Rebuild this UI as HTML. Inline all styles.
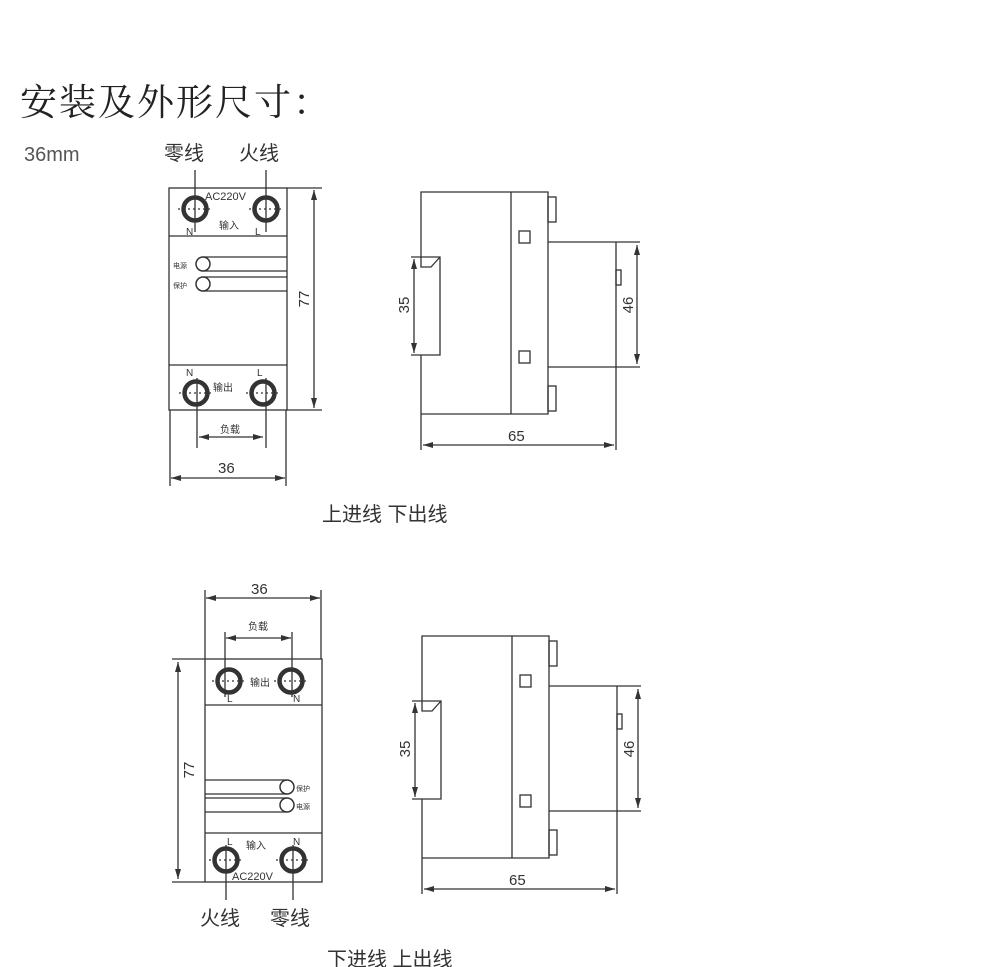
<!DOCTYPE html>
<html><head><meta charset="utf-8"><style>
html,body{margin:0;padding:0;background:#fff}
svg{display:block}
text{font-family:"Liberation Sans","Noto Sans CJK SC",sans-serif;fill:#333}
.cj{font-family:"Liberation Sans","Noto Sans CJK SC",sans-serif}
.serif{font-family:"Liberation Serif","Noto Serif CJK SC",serif}
</style></head><body>
<svg width="990" height="967" viewBox="0 0 990 967" xmlns="http://www.w3.org/2000/svg">
<defs>
<marker id="ar" viewBox="0 0 10 6" refX="10" refY="3" markerWidth="10" markerHeight="6" orient="auto-start-reverse" markerUnits="userSpaceOnUse"><path d="M0,0 L10,3 L0,6 z" fill="#333"/></marker>
<g id="term">
<circle r="11.5" fill="none" stroke="#333" stroke-width="4.5"/>
<line x1="-17" y1="0" x2="17" y2="0" stroke="#333" stroke-width="1.2" stroke-dasharray="2,3"/>
</g>
<g id="side" fill="none" stroke="#333" stroke-width="1.3">
<path d="M421,257 V192 H548 V414 H421"/>
<line x1="511" y1="192" x2="511" y2="414"/>
<rect x="519" y="231" width="11" height="12"/>
<rect x="519" y="351" width="11" height="12"/>
<rect x="548" y="197" width="8" height="25"/>
<rect x="548" y="386" width="8" height="25"/>
<path d="M548,242 H640 M548,367 H640"/>
<line x1="616" y1="242" x2="616" y2="450"/>
<rect x="616" y="270" width="5" height="15"/>
<path d="M411,257 H440 V355 H411 M421,355 V450"/>
<path d="M421,257 V267 H431 L440,257"/>
<line x1="414" y1="259" x2="414" y2="353" marker-start="url(#ar)" marker-end="url(#ar)"/>
<line x1="637" y1="245" x2="637" y2="364" marker-start="url(#ar)" marker-end="url(#ar)"/>
<line x1="423" y1="445" x2="614" y2="445" marker-start="url(#ar)" marker-end="url(#ar)"/>
</g>
</defs>

<text x="20" y="115" class="serif" style="font-size:37px;fill:#222;letter-spacing:2px">安装及外形尺寸：</text>
<text x="24" y="161" style="font-size:20px;fill:#555">36mm</text>
<text x="164" y="160" class="cj" style="font-size:20px">零线</text>
<text x="239" y="160" class="cj" style="font-size:20px">火线</text>

<!-- Top-left front view -->
<g fill="none" stroke="#333" stroke-width="1.3">
<rect x="169" y="188" width="118" height="222"/>
<line x1="169" y1="236" x2="287" y2="236"/>
<line x1="169" y1="365" x2="287" y2="365"/>
<line x1="195" y1="170" x2="195" y2="232"/>
<line x1="266" y1="170" x2="266" y2="232"/>
<line x1="197" y1="378" x2="197" y2="448"/>
<line x1="266" y1="378" x2="266" y2="448"/>
<line x1="199" y1="437" x2="263" y2="437" marker-start="url(#ar)" marker-end="url(#ar)"/>
<line x1="170" y1="410" x2="170" y2="486"/>
<line x1="286" y1="410" x2="286" y2="486"/>
<line x1="171" y1="478" x2="285" y2="478" marker-start="url(#ar)" marker-end="url(#ar)"/>
<path d="M287,188 H322 M287,410 H322"/>
<line x1="314" y1="190" x2="314" y2="408" marker-start="url(#ar)" marker-end="url(#ar)"/>
<circle cx="203" cy="264" r="7" stroke-width="1.5"/>
<circle cx="203" cy="284" r="7" stroke-width="1.5"/>
<path d="M203,257 H287 M203,271 H287 M203,277 H287 M203,291 H287"/>
</g>
<use href="#term" x="195" y="209"/>
<use href="#term" x="266" y="209"/>
<use href="#term" x="196" y="393"/>
<use href="#term" x="263" y="393"/>
<text x="205" y="200" style="font-size:11px">AC220V</text>
<text x="186" y="235" style="font-size:10px">N</text>
<text x="255" y="235" style="font-size:10px">L</text>
<text x="219" y="229" style="font-size:10px">输入</text>
<text x="186" y="376" style="font-size:10px">N</text>
<text x="257" y="376" style="font-size:10px">L</text>
<text x="213" y="391" style="font-size:10px">输出</text>
<text x="220" y="433" style="font-size:10px">负载</text>
<text x="218" y="473" style="font-size:15px">36</text>
<text x="173" y="268" style="font-size:7px">电源</text>
<text x="173" y="288" style="font-size:7px">保护</text>
<text transform="translate(309,299) rotate(-90)" style="font-size:15px" text-anchor="middle">77</text>

<!-- Top side view -->
<use href="#side"/>
<text transform="translate(409,305) rotate(-90)" style="font-size:15px" text-anchor="middle">35</text>
<text transform="translate(633,305) rotate(-90)" style="font-size:15px" text-anchor="middle">46</text>
<text x="508" y="441" style="font-size:15px">65</text>

<text x="322" y="521" class="cj" style="font-size:20px">上进线 下出线</text>

<!-- Bottom-left front view -->
<g fill="none" stroke="#333" stroke-width="1.3">
<rect x="205" y="659" width="117" height="223"/>
<line x1="205" y1="705" x2="322" y2="705"/>
<line x1="205" y1="833" x2="322" y2="833"/>
<line x1="205" y1="590" x2="205" y2="659"/>
<line x1="321" y1="590" x2="321" y2="659"/>
<line x1="206" y1="598" x2="320" y2="598" marker-start="url(#ar)" marker-end="url(#ar)"/>
<line x1="225" y1="632" x2="225" y2="697"/>
<line x1="292" y1="632" x2="292" y2="697"/>
<line x1="226" y1="638" x2="291" y2="638" marker-start="url(#ar)" marker-end="url(#ar)"/>
<path d="M172,659 H205 M172,882 H205"/>
<line x1="178" y1="662" x2="178" y2="879" marker-start="url(#ar)" marker-end="url(#ar)"/>
<line x1="226" y1="845" x2="226" y2="900"/>
<line x1="293" y1="845" x2="293" y2="900"/>
<circle cx="287" cy="787" r="7" stroke-width="1.5"/>
<circle cx="287" cy="805" r="7" stroke-width="1.5"/>
<path d="M205,780 H287 M205,794 H287 M205,798 H287 M205,812 H287"/>
</g>
<use href="#term" x="229" y="681"/>
<use href="#term" x="291" y="681"/>
<use href="#term" x="226" y="860"/>
<use href="#term" x="293" y="860"/>
<text x="250" y="686" style="font-size:10px">输出</text>
<text x="227" y="702" style="font-size:10px">L</text>
<text x="293" y="702" style="font-size:10px">N</text>
<text x="248" y="630" style="font-size:10px">负载</text>
<text x="251" y="594" style="font-size:15px">36</text>
<text x="246" y="849" style="font-size:10px">输入</text>
<text x="227" y="845" style="font-size:10px">L</text>
<text x="293" y="845" style="font-size:10px">N</text>
<text x="232" y="880" style="font-size:11px">AC220V</text>
<text x="296" y="791" style="font-size:7px">保护</text>
<text x="296" y="809" style="font-size:7px">电源</text>
<text transform="translate(194,770) rotate(-90)" style="font-size:15px" text-anchor="middle">77</text>
<text x="200" y="925" class="cj" style="font-size:20px">火线</text>
<text x="270" y="925" class="cj" style="font-size:20px">零线</text>

<!-- Bottom side view -->
<use href="#side" transform="translate(1,444)"/>
<text transform="translate(410,749) rotate(-90)" style="font-size:15px" text-anchor="middle">35</text>
<text transform="translate(634,749) rotate(-90)" style="font-size:15px" text-anchor="middle">46</text>
<text x="509" y="885" style="font-size:15px">65</text>

<text x="327" y="966" class="cj" style="font-size:20px">下进线 上出线</text>
</svg>
</body></html>
